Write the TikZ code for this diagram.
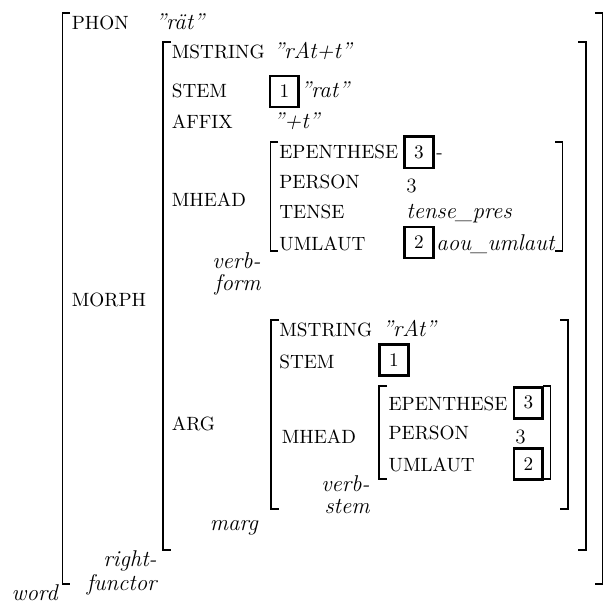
\documentclass[tikz,border=0pt]{standalone}
\usepackage{fontspec}
\usepackage{tikz}

\newcommand{\oldthree}{{\usefont{OML}{cmm}{m}{it}3}}

\begin{document}
\begin{tikzpicture}[x=0.57pt,y=-0.57pt,
    feat/.style={anchor=base west,inner sep=0pt,font=\fontsize{10.95}{13}\selectfont},
    val/.style={anchor=base west,inner sep=0pt,font=\fontsize{13}{15}\selectfont\itshape},
    typ/.style={anchor=base east,inner sep=0pt,font=\fontsize{13}{15}\selectfont\itshape},
    tag/.style={draw,line width=1.5pt,minimum width=16.5pt,minimum height=17.7pt,inner sep=0pt,font=\fontsize{10.95}{13}\selectfont},
    brk/.style={line width=1pt}]
    \useasboundingbox (0,0) rectangle (603,603);

    % word
    \draw[brk] (70,13) -| (62.5,584) -- (70,584);
    \draw[brk] (595,13) -| (602.5,584) -- (595,584);
    \node[feat] (phon) at (71.5,29) {PHON};
    \node[val] (phonv) at (155,29) {”rät”};
    \node[feat] (morph) at (71.5,306.5) {MORPH};
    \node[typ] (word) at (58,600) {word};

    % right-functor
    \draw[brk] (171,42) -| (163,550) -- (171,550);
    \draw[brk] (578,42) -| (586,550) -- (578,550);
    \node[feat] (mstr) at (171.5,58) {MSTRING};
    \node[val] (mstrv) at (273,58) {”rAt+t”};
    \node[feat] (stem) at (171.5,97.5) {STEM};
    \node[tag] (tagA) at (284.3,91.5) {1};
    \node[val] (stemv) at (300,97.5) {”rat”};
    \node[feat] (affix) at (171.5,128) {AFFIX};
    \node[val] (affixv) at (273,128) {”+t”};
    \node[feat] (mhead) at (171.5,206.5) {MHEAD};
    \node[feat] (arg) at (171.5,430) {ARG};
    \node[typ] (rfA) at (157,566.7) {right-};
    \node[typ] (rfB) at (157,590.7) {functor};

    % verb-form
    \draw[brk] (278,142) -| (270.5,251) -- (278,251);
    \draw[brk] (555,142) -| (562.5,251) -- (555,251);
    \node[feat] (epen) at (279,158) {EPENTHESE};
    \node[tag] (tagC) at (418.8,152.3) {3};
    \node[feat] (epenv) at (436,158) {-};
    \node[val] (persv) at (406,188) {\oldthree};
    \node[feat] (pers) at (279,188) {PERSON};
    \node[feat] (tense) at (279,218) {TENSE};
    \node[val] (tensev) at (406,218) {tense\_pres};
    \node[feat] (uml) at (279,250) {UMLAUT};
    \node[tag] (tagB) at (418.8,242.5) {2};
    \node[val] (umlv) at (436,250) {aou\_umlaut};
    \node[typ] (vfA) at (261,268) {verb-};
    \node[typ] (vfB) at (261,290) {form};

    % marg
    \draw[brk] (279,320) -| (271,509) -- (279,509);
    \draw[brk] (560,320) -| (568,509) -- (560,509);
    \node[feat] (amstr) at (279,336) {MSTRING};
    \node[val] (amstrv) at (381.7,336) {”rAt”};
    \node[feat] (astem) at (279,368) {STEM};
    \node[tag] (atagA) at (393.8,360) {1};
    \node[feat] (amhead) at (281.5,443) {MHEAD};
    \node[typ] (marg) at (258.3,530) {marg};

    % verb-stem
    \draw[brk] (387,386) -| (379,479) -- (387,479);
    \draw[brk] (543,386) -| (550.5,479) -- (543,479);
    \node[feat] (aepen) at (388.3,410) {EPENTHESE};
    \node[tag] (atagC) at (528.3,402.8) {3};
    \node[feat] (apers) at (388.3,439.3) {PERSON};
    \node[val] (apersv) at (515,439.3) {\oldthree};
    \node[feat] (auml) at (388.3,471) {UMLAUT};
    \node[tag] (atagB) at (528.3,463.8) {2};
    \node[typ] (vsA) at (370,491.7) {verb-};
    \node[typ] (vsB) at (370,513.3) {stem};
\end{tikzpicture}
\end{document}
